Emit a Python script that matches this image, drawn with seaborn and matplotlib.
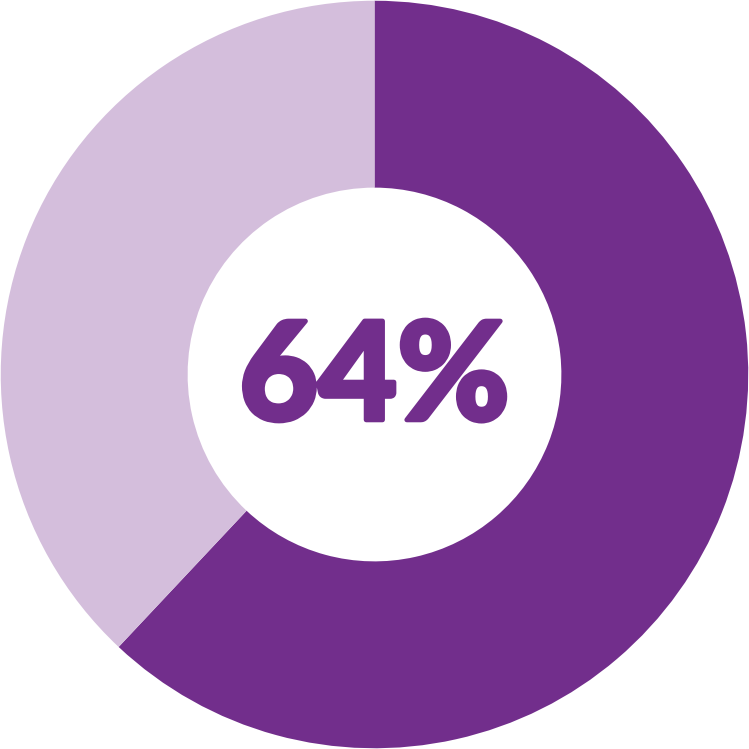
import matplotlib
matplotlib.use("Agg")
import matplotlib.pyplot as plt
import matplotlib.patheffects as pe
import seaborn as sns

categories = ["Yes", "No"]
values = [62, 38]
colors = ["#722E8C", "#D4BEDC"]
center_label = "64%"

sns.set_theme(style="white")
plt.rcParams['font.family'] = ['Lato', 'DejaVu Sans']

fig = plt.figure(figsize=(7.49, 7.49), dpi=100)
ax = fig.add_axes([0, 0, 1, 1])
ax.pie(values, colors=colors, startangle=90, counterclock=False, radius=1.0,
       wedgeprops=dict(width=0.5, edgecolor="none", linewidth=0))
ax.set_xlim(-1.002, 1.002)
ax.set_ylim(-1.002, 1.002)
ax.set_aspect("equal")
ax.axis("off")
ax.text(0, -0.017, center_label, ha="center", va="center", fontsize=98,
        fontweight="black", color=colors[0],
        path_effects=[pe.Stroke(linewidth=3.5, foreground=colors[0]), pe.Normal()])
fig.savefig("out.png", dpi=100, facecolor="white")
